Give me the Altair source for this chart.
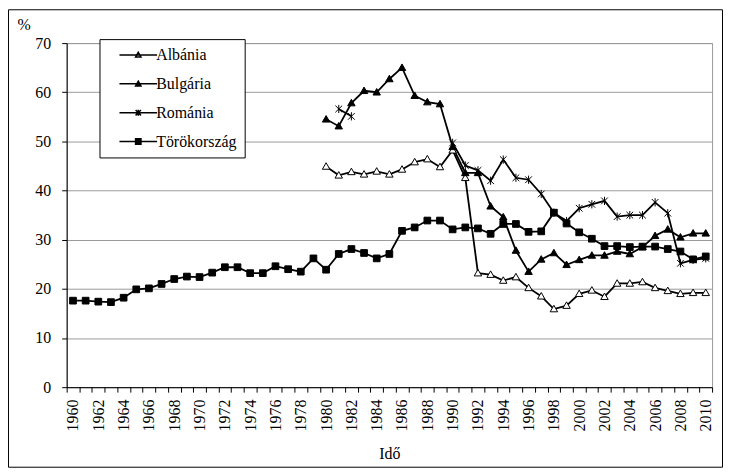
import altair as alt
import pandas as pd

years = list(range(1960, 2011))
countries = ["Albánia", "Bulgária", "Románia", "Törökország"]

albania = [None] * 20 + [44.9, 43.1, 43.8, 43.3, 43.9, 43.3, 44.3, 45.8, 46.4, 44.8,
                         48.2, 42.6, 23.2, 22.9, 21.7, 22.4, 20.2, 18.5, 15.9, 16.6,
                         19.0, 19.7, 18.4, 21.1, 21.1, 21.4, 20.2, 19.6, 19.0, 19.2, 19.2]
bulgaria = [None] * 20 + [54.5, 53.1, 57.8, 60.3, 60.0, 62.7, 65.0, 59.3, 58.0, 57.6,
                          48.9, 43.6, 43.6, 36.8, 34.6, 27.8, 23.5, 26.0, 27.3, 24.9,
                          25.9, 26.8, 26.8, 27.6, 27.1, 28.5, 30.8, 32.1, 30.5, 31.3, 31.3]
romania = [None] * 21 + [56.6, 55.1] + [None] * 7 + [49.7, 45.1, 44.1, 42.0, 46.3, 42.6,
                                                      42.2, 39.3, 35.5, 33.8, 36.4, 37.2,
                                                      37.9, 34.7, 35.0, 35.0, 37.6, 35.4,
                                                      25.2, 25.9, 26.2]
turkey = [17.6, 17.6, 17.4, 17.3, 18.2, 19.9, 20.1, 21.0, 22.0, 22.5,
          22.4, 23.3, 24.4, 24.4, 23.2, 23.2, 24.6, 24.0, 23.5, 26.2,
          23.9, 27.1, 28.1, 27.3, 26.2, 27.1, 31.8, 32.5, 33.9, 33.9,
          32.1, 32.5, 32.3, 31.2, 33.2, 33.2, 31.6, 31.7, 35.5, 33.3,
          31.5, 30.2, 28.7, 28.7, 28.5, 28.6, 28.6, 28.1, 27.6, 26.0, 26.6]

series = {"Albánia": albania, "Bulgária": bulgaria, "Románia": romania, "Törökország": turkey}
rows = []
for c in countries:
    for yr, v in zip(years, series[c]):
        rows.append({"country": c, "year": yr, "value": v})
df = pd.DataFrame(rows)

FONT = "Liberation Serif"

# marker shapes (plot) and line+marker shapes (legend)
tri = "M0,-1L1,0.75L-1,0.75Z"
sq = "M-0.9,-0.9H0.9V0.9H-0.9Z"
ast = "M-0.9,-0.9L0.9,0.9M-0.9,0.9L0.9,-0.9M0,-1.1L0,1.1"
plot_shapes = [tri, tri, ast, sq]
seg = "M-6.3,0H6.3"
leg_shapes = [seg + "M0,-0.9L0.9,0.7L-0.9,0.7Z",
              seg + "M0,-0.9L0.9,0.7L-0.9,0.7Z",
              seg + "M-0.9,-0.9L0.9,0.9M-0.9,0.9L0.9,-0.9M0,-1L0,1",
              seg + "M-0.9,-0.9H0.9V0.9H-0.9Z"]
fills = ["white", "black", "black", "black"]
strokes = ["black", "black", "black", "black"]

x_enc = alt.X("year:O", scale=alt.Scale(domain=years, paddingInner=0, paddingOuter=0),
              axis=alt.Axis(title="Idő", labelAngle=270, labelExpr="datum.value % 2 == 0 ? datum.label : ''",
                            labelOverlap=False, tickBand="extent", tickSize=5, labelPadding=7,
                            titlePadding=15, grid=False))
y_enc = alt.Y("value:Q", scale=alt.Scale(domain=[0, 70], nice=False),
              axis=alt.Axis(title="%", values=list(range(0, 71, 10)), titleAngle=0, titleAlign="left",
                            titleBaseline="alphabetic", titleX=-50, titleY=-14, labelPadding=11, tickSize=5,
                            grid=True))

base = alt.Chart(df)

lines = base.mark_line(color="black", strokeWidth=1.8).encode(x=x_enc, y=y_enc, detail="country:N")

points = base.mark_point(filled=True, stroke="black", strokeWidth=1, size=56, opacity=1).encode(
    x=x_enc, y=y_enc,
    shape=alt.Shape("country:N", scale=alt.Scale(domain=countries, range=plot_shapes), legend=None),
    fill=alt.Fill("country:N", scale=alt.Scale(domain=countries, range=fills), legend=None),
).transform_filter("isValid(datum.value)")

nb = "\u00a0" * 14
leg = alt.Legend(title=None, orient="none", legendX=33, legendY=-4, fillColor="white", strokeColor="black",
                 padding=8, rowPadding=13, symbolSize=36, symbolOffset=23, labelOffset=10,
                 symbolStrokeWidth=1.5, labelFont=FONT, labelFontSize=16,
                 labelColor="black", labelExpr="datum.label + '" + nb + "'")

legend_layer = base.mark_point(filled=True, strokeWidth=1.5, size=36, opacity=1).encode(
    x=x_enc, y=y_enc,
    shape=alt.Shape("country:N", scale=alt.Scale(domain=countries, range=leg_shapes), legend=leg),
    fill=alt.Fill("country:N", scale=alt.Scale(domain=countries, range=fills), legend=leg),
    stroke=alt.Stroke("country:N", scale=alt.Scale(domain=countries, range=strokes), legend=leg),
).transform_filter("datum.value < -1000")

frame = alt.Chart(pd.DataFrame({"a": [0]})).mark_rect(filled=False, stroke="black", strokeWidth=1).encode(
    x=alt.value(-58.5), x2=alt.value(649 + 10.5), y=alt.value(-33.5), y2=alt.value(346 + 80.5))

chart = alt.layer(lines, points, legend_layer, frame).resolve_scale(
    shape="independent", fill="independent", stroke="independent"
).properties(
    width=649, height=346,
    autosize=alt.AutoSizeParams(type="none"),
    padding={"left": 59, "top": 34, "right": 12, "bottom": 81},
).configure_view(stroke="#999999", strokeWidth=1).configure_axis(
    labelFont=FONT, labelFontSize=16, labelColor="black", titleFont=FONT, titleFontSize=16,
    titleFontWeight="normal", titleColor="black", domainColor="black", domainWidth=1,
    tickColor="black", tickWidth=1, gridColor="#999999", gridWidth=1
)

chart.save("out.html", embed_options={"renderer": "svg", "actions": False})
